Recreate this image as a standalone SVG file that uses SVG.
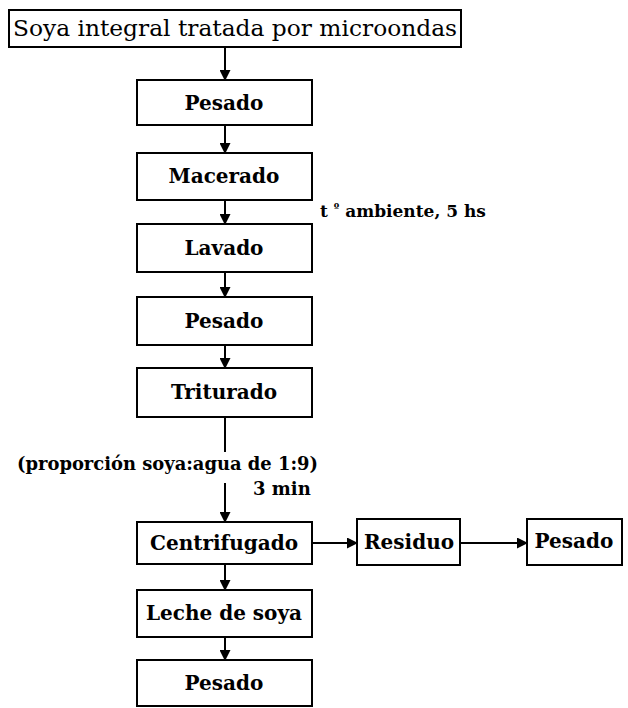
<svg xmlns="http://www.w3.org/2000/svg" width="628" height="708" viewBox="0 0 628 708">
<defs>
<marker id="ah" markerWidth="11" markerHeight="11" refX="10" refY="5.5" orient="auto" markerUnits="userSpaceOnUse">
<path d="M0,0 L11,5.5 L0,11 Z" fill="#000"/>
</marker>
</defs>
<style>
.b{fill:#fff;stroke:#000;stroke-width:2}
.t{font-family:"DejaVu Serif","Liberation Serif",serif;font-size:20px;font-weight:bold;fill:#000;text-anchor:middle}
.l{font-family:"DejaVu Serif","Liberation Serif",serif;font-size:18px;font-weight:bold;fill:#000}
.c{stroke:#000;stroke-width:2;fill:none}
</style>
<rect width="628" height="708" fill="#fff"/>
<g id="connectors">
<line class="c" x1="225" y1="47" x2="225" y2="80" marker-end="url(#ah)"/>
<line class="c" x1="225" y1="125" x2="225" y2="153" marker-end="url(#ah)"/>
<line class="c" x1="225" y1="200" x2="225" y2="224" marker-end="url(#ah)"/>
<line class="c" x1="225" y1="272" x2="225" y2="297" marker-end="url(#ah)"/>
<line class="c" x1="225" y1="345" x2="225" y2="368" marker-end="url(#ah)"/>
<line class="c" x1="225" y1="417" x2="225" y2="452"/>
<line class="c" x1="225" y1="483" x2="225" y2="522" marker-end="url(#ah)"/>
<line class="c" x1="225" y1="564" x2="225" y2="590" marker-end="url(#ah)"/>
<line class="c" x1="225" y1="637" x2="225" y2="660" marker-end="url(#ah)"/>
<line class="c" x1="312" y1="543" x2="357" y2="543" marker-end="url(#ah)"/>
<line class="c" x1="460" y1="543" x2="527" y2="543" marker-end="url(#ah)"/>
</g>
<g id="n0"><rect class="b" x="9" y="10" width="452" height="37"/><text class="t" x="235" y="36" style="font-weight:normal;font-size:22px" textLength="444" lengthAdjust="spacingAndGlyphs">Soya integral tratada por microondas</text></g>
<g id="n1"><rect class="b" x="137" y="80" width="175" height="45"/><text class="t" x="224" y="110">Pesado</text></g>
<g id="n2"><rect class="b" x="137" y="153" width="175" height="47"/><text class="t" x="224" y="183">Macerado</text></g>
<g id="n3"><rect class="b" x="137" y="224" width="175" height="48"/><text class="t" x="224" y="255">Lavado</text></g>
<g id="n4"><rect class="b" x="137" y="297" width="175" height="48"/><text class="t" x="224" y="328">Pesado</text></g>
<g id="n5"><rect class="b" x="137" y="368" width="175" height="49"/><text class="t" x="224" y="399">Triturado</text></g>
<g id="n6"><rect class="b" x="137" y="522" width="175" height="42"/><text class="t" x="224" y="550">Centrifugado</text></g>
<g id="n7"><rect class="b" x="357" y="519" width="103" height="46"/><text class="t" x="409" y="549">Residuo</text></g>
<g id="n8"><rect class="b" x="527" y="519" width="95" height="46"/><text class="t" x="574" y="548">Pesado</text></g>
<g id="n9"><rect class="b" x="137" y="590" width="175" height="47"/><text class="t" x="224" y="620">Leche de soya</text></g>
<g id="n10"><rect class="b" x="137" y="660" width="175" height="46"/><text class="t" x="224" y="690">Pesado</text></g>
<text class="l" x="320" y="217" style="font-size:17px">t <tspan style="font-size:11px" dy="-6">º</tspan><tspan dy="6"> ambiente, 5 hs</tspan></text>
<text class="l" x="17" y="470" textLength="301" lengthAdjust="spacingAndGlyphs">(proporción soya:agua de 1:9)</text>
<text class="l" x="253" y="495">3 min</text>
</svg>
